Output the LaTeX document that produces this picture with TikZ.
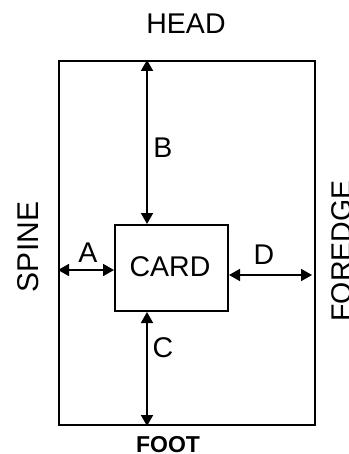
\documentclass[tikz,border=0pt]{standalone}
\usepackage{fontspec}
\setmainfont{Liberation Sans}
\usetikzlibrary{arrows.meta}
\begin{document}
\begin{tikzpicture}[x=1pt,y=-1pt,
  lbl/.style={inner sep=0pt,font=\fontsize{28.5}{31}\selectfont},
  boxst/.style={draw,line width=2pt,inner sep=0pt},
  tip/.tip={Triangle[length=11pt,width=12pt]},
  dim/.style={line width=1.8pt,tip-tip}]
\useasboundingbox (0,0) rectangle (348,454);
\node[boxst,minimum width=256pt,minimum height=364pt] (page) at (187,243) {};
\node[boxst,minimum width=113pt,minimum height=86pt] (card) at (171.5,268) {};
\node[lbl] (cardtxt) at (170,267) {CARD};
\coordinate (bx) at (147,0);
\coordinate (ay) at (0,270);
\coordinate (dy) at (0,275);
\draw[dim] (card.north -| bx) -- (page.north -| bx);
\draw[dim] (card.south -| bx) -- (page.south -| bx);
\draw[dim] (page.west |- ay) -- (card.west |- ay);
\draw[dim] (card.east |- dy) -- ([xshift=-4pt]page.east |- dy);
\node[lbl] (b) at (163,148) {B};
\node[lbl] (c) at (163,348) {C};
\node[lbl] (a) at (88,253) {A};
\node[lbl] (d) at (264,255) {D};
\node[lbl] (head) at (186,24) {HEAD};
\node[inner sep=0pt,font=\fontsize{23}{26}\selectfont\bfseries] (foot) at (168,445) {FOOT};
\node[inner sep=0pt,rotate=90,font=\fontsize{30}{33}\selectfont] (spine) at (28,247) {SPINE};
\node[lbl,rotate=90] (fore) at (341.5,251) {FOREDGE};
\end{tikzpicture}
\end{document}
